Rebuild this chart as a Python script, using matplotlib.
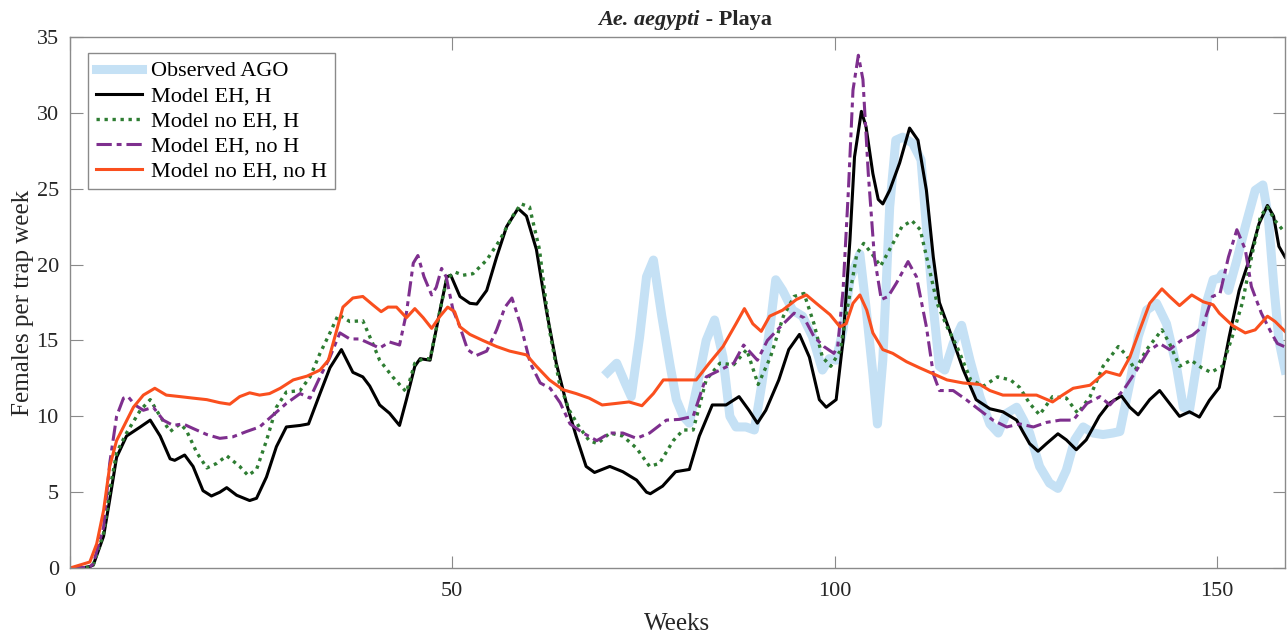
import matplotlib
matplotlib.use("Agg")
import matplotlib.pyplot as plt

plt.rcParams["font.family"] = ["Liberation Serif", "DejaVu Serif"]

# observed AGO counts (weeks 70-159)
obs_w = [70.3, 71.5, 72.6, 73.4, 74.5, 75.4, 76.3, 77.4, 78.5, 79.3, 80.2, 81.0, 82.1, 83.2, 84.3,
         85.4, 86.3, 87.1, 88.4, 89.5, 90.5, 91.6, 92.3, 93.2, 94.5, 95.8, 97.1, 98.4, 99.3, 100.2,
         101.1, 102.0, 103.3, 104.1, 105.0, 105.6, 106.3, 107.2, 108.0, 108.9, 110.2, 111.3, 112.0,
         112.9, 113.7, 114.4, 115.5, 116.6, 117.7, 119.0, 120.3, 121.4, 122.5, 123.8, 124.7, 125.5,
         126.8, 128.1, 129.2, 130.3, 131.4, 132.5, 133.8, 135.1, 136.4, 137.3, 138.6, 139.7, 140.8,
         142.1, 143.4, 144.7, 145.6, 146.4, 147.5, 148.6, 149.5, 150.3, 150.7, 151.5, 152.6, 153.7,
         155.0, 156.0, 156.7, 157.4, 158.1, 158.9]
obs_v = [12.9, 13.5, 12.2, 11.3, 15.25, 19.2, 20.3, 16.6, 13.3, 11.1, 10.0, 9.55, 12.2, 15.0, 16.35,
         13.9, 10.0, 9.3, 9.3, 9.1, 12.2, 16.1, 19.0, 18.3, 17.0, 16.6, 15.25, 13.05, 13.8, 13.7,
         15.7, 19.0, 20.7, 17.2, 12.8, 9.5, 13.7, 23.8, 28.2, 28.4, 28.0, 26.9, 22.5,
         17.2, 13.3, 13.05, 14.8, 16.0, 13.7, 11.3, 9.5, 8.9, 10.2, 10.6, 9.75, 8.9,
         6.7, 5.6, 5.25, 6.45, 8.45, 9.3, 8.9, 8.8, 8.9, 9.0, 12.2, 15.25, 17.0,
         17.45, 16.1, 13.3, 10.6, 10.4, 13.9, 17.45, 19.0, 19.1, 19.4, 18.3, 20.3, 22.5,
         24.9, 25.25, 23.2, 18.8, 15.0, 13.05]

# Model EH, H
eh_h_w = [0, 1.5, 2.6, 3.05, 4.4, 5.2, 6.1, 7.4, 9.2, 10.5, 11.8, 13.1, 13.7, 15.0, 16.1, 17.4, 18.5,
          19.6, 20.5, 21.8, 23.5, 24.4, 25.7, 27.0, 28.3, 30.1, 31.2, 32.7, 34.0, 35.5, 37.0, 38.3,
          39.2, 40.5, 41.8, 43.1, 44.0, 45.1, 45.8, 47.1, 48.4, 49.3, 49.8, 51.0, 52.3, 53.2, 54.5,
          55.8, 57.1, 58.6, 59.7, 61.0, 62.3, 63.6, 64.9, 66.2, 67.5, 68.6, 70.6, 72.3, 74.1, 75.4,
          75.9, 77.5, 79.2, 81.0, 82.3, 84.0, 85.8, 87.5, 88.8, 89.9, 91.0, 92.7, 94.0, 95.4, 96.7,
          98.0, 98.9, 100.2, 101.1, 102.0, 102.6, 103.5, 104.1, 105.0, 105.7, 106.3, 107.2, 108.5,
          109.8, 110.9, 112.0, 112.9, 113.7, 115.0, 116.8, 118.5, 120.3, 122.0, 123.8, 124.6, 125.5,
          126.6, 127.7, 129.2, 130.3, 131.6, 132.9, 134.6, 135.9, 137.5, 138.6, 139.7, 141.2, 142.5,
          143.8, 145.1, 146.4, 147.7, 149.0, 150.3, 151.6, 152.9, 154.2, 155.5, 156.6, 157.4, 158.1,
          158.9]
eh_h_v = [0, 0, 0.1, 0.2, 2.1, 4.5, 7.3, 8.7, 9.3, 9.75, 8.7, 7.2, 7.1, 7.45, 6.7, 5.1, 4.75,
          5.0, 5.3, 4.8, 4.45, 4.6, 6.0, 8.0, 9.3, 9.4, 9.5, 11.5, 13.2, 14.4, 12.9, 12.6,
          12.0, 10.75, 10.2, 9.4, 11.1, 13.3, 13.8, 13.7, 17.0, 19.2, 19.3, 17.9, 17.45, 17.4, 18.3,
          20.5, 22.5, 23.7, 23.2, 21.0, 17.0, 13.5, 10.9, 8.7, 6.7, 6.3, 6.7, 6.35, 5.8, 5.0,
          4.9, 5.4, 6.35, 6.5, 8.7, 10.75, 10.75, 11.3, 10.4, 9.55, 10.4, 12.4, 14.4, 15.4, 13.9,
          11.1, 10.6, 11.1, 15.0, 21.6, 27.1, 30.1, 29.1, 26.0, 24.3, 24.0, 24.9, 26.7,
          29.0, 28.2, 24.9, 20.5, 17.5, 15.7, 13.1, 11.1, 10.5, 10.3, 9.75, 9.0, 8.2,
          7.7, 8.2, 8.85, 8.45, 7.8, 8.45, 10.0, 10.85, 11.35, 10.6, 10.1, 11.1, 11.7,
          10.85, 10.0, 10.3, 9.95, 11.05, 11.9, 15.25, 18.3, 20.3, 22.7, 23.9, 23.2, 21.2,
          20.5]

# Model no EH, H
noeh_h_w = [0, 1.5, 2.6, 3.05, 4.4, 5.2, 6.1, 7.4, 9.2, 10.5, 11.8, 13.1, 14.4, 15.2, 16.6, 17.9,
            19.2, 20.5, 22.2, 23.3, 24.4, 25.7, 27.0, 28.3, 30.1, 31.4, 32.7, 34.0, 35.1, 36.6, 38.3,
            39.6, 40.5, 42.2, 44.0, 45.1, 46.2, 47.1, 48.4, 49.3, 50.4, 51.4, 52.7, 54.5, 56.2, 57.9,
            59.0, 60.1, 61.4, 62.7, 64.0, 65.3, 66.6, 67.9, 69.0, 70.6, 72.3, 74.1, 75.8, 77.1, 78.9,
            80.2, 81.5, 83.2, 85.0, 86.8, 88.5, 90.0, 91.6, 93.3, 94.7, 96.0, 97.3, 98.4, 99.5, 100.7,
            102.0, 102.9, 103.8, 104.9, 106.0, 107.2, 108.8, 110.1, 111.2, 112.3, 113.4, 114.7, 116.0,
            117.8, 119.5, 121.3, 123.0, 124.2, 125.5, 126.8, 128.5, 130.3, 131.8, 133.4, 135.1, 137.1,
            138.2, 139.3, 140.8, 142.8, 143.8, 145.1, 146.6, 148.0, 149.2, 150.7, 152.0, 153.3, 154.6,
            155.7, 156.6, 157.6, 158.9]
noeh_h_v = [0, 0, 0.05, 0.2, 2.3, 5.1, 7.6, 8.9, 10.4, 11.1, 10.0, 9.0, 9.5, 9.1, 7.6, 6.6,
            6.9, 7.4, 6.7, 6.1, 6.5, 8.4, 10.6, 11.6, 11.7, 12.6, 14.15, 15.5, 16.7, 16.25, 16.3,
            14.8, 13.7, 12.6, 11.6, 13.5, 13.8, 13.8, 17.0, 19.1, 19.5, 19.3, 19.4, 20.3, 21.6, 23.2,
            24.0, 23.8, 21.0, 15.7, 12.2, 10.4, 9.3, 8.4, 8.2, 8.9, 8.7, 7.9, 6.7, 6.9, 8.4,
            9.1, 9.1, 12.4, 13.5, 13.4, 14.4, 12.1, 13.9, 16.6, 17.9, 18.1, 16.1, 13.9, 13.3, 14.3,
            18.1, 20.7, 21.4, 20.7, 19.9, 21.0, 22.5, 22.9, 22.3, 19.9, 17.45, 15.9, 14.6,
            12.4, 12.0, 12.6, 12.4, 11.9, 10.85, 10.1, 11.3, 11.2, 10.2, 11.3, 13.3, 14.6,
            14.0, 13.05, 14.4, 15.7, 14.8, 13.3, 13.7, 13.2, 12.9, 13.3, 15.25, 17.45, 20.7,
            23.2, 23.8, 22.9, 22.1]

# Model EH, no H
eh_noh_w = [0, 2.6, 3.05, 4.4, 5.2, 6.1, 7.0, 7.6, 8.5, 9.6, 10.9, 12.2, 13.5, 14.8, 16.1, 17.9,
            19.6, 21.3, 23.1, 24.8, 26.6, 28.3, 30.1, 31.4, 32.7, 34.0, 35.3, 36.6, 37.9, 39.2, 40.5,
            41.8, 43.1, 44.0, 44.9, 45.5, 46.3, 47.3, 47.9, 48.6, 49.2, 50.1, 51.0, 52.0, 53.1, 54.5,
            55.8, 56.9, 57.8, 58.9, 60.2, 61.5, 62.8, 64.1, 65.4, 67.1, 68.9, 70.6, 72.3, 74.1, 75.8,
            78.0, 79.7, 81.5, 83.2, 85.0, 86.8, 88.1, 89.9, 91.2, 92.9, 94.7, 96.0, 97.3, 98.6, 99.9,
            100.4, 101.1, 101.8, 102.4, 103.1, 103.7, 104.4, 105.2, 106.1, 107.0, 108.1, 109.6, 110.7,
            112.0, 112.9, 113.7, 115.5, 117.2, 119.0, 120.7, 122.5, 124.2, 126.0, 127.7, 129.5, 131.2,
            133.0, 134.7, 136.0, 137.8, 139.5, 141.0, 142.5, 143.8, 145.3, 146.8, 148.1, 149.4, 150.4,
            151.5, 152.6, 153.7, 154.5, 155.8, 157.1, 157.9, 158.8]
eh_noh_v = [0, 0.05, 0.3, 2.7, 6.9, 10.0, 11.2, 11.3, 10.75, 10.4, 10.6, 9.75, 9.4, 9.5, 9.2, 8.8,
            8.55, 8.65, 9.0, 9.3, 10.1, 10.85, 11.5, 11.2, 12.6, 13.9, 15.5, 15.1, 15.1, 14.8, 14.5,
            14.9, 14.7, 16.8, 20.1, 20.6, 19.2, 18.0, 18.5, 19.75, 19.2, 17.0, 15.9, 14.4, 14.0, 14.3,
            15.7, 17.2, 17.8, 16.1, 13.5, 12.2, 11.85, 10.9, 9.5, 8.9, 8.4, 8.9, 8.9, 8.55, 8.9,
            9.75, 9.8, 10.0, 12.6, 13.05, 13.5, 14.7, 13.7, 15.0, 15.9, 16.8, 16.5, 15.25, 14.6, 14.15,
            14.6, 18.3, 24.9, 31.5, 33.8, 32.2, 26.0, 20.5, 17.7, 17.9, 18.8, 20.2, 19.2,
            15.9, 12.8, 11.7, 11.7, 11.1, 10.4, 9.75, 9.3, 9.5, 9.3, 9.6, 9.75, 9.75,
            10.85, 11.3, 10.75, 11.75, 13.05, 14.3, 14.8, 14.4, 15.0, 15.35, 15.9, 17.9, 18.1,
            20.5, 22.3, 21.0, 18.55, 16.8, 15.5, 14.8, 14.6]

# Model no EH, no H
noeh_noh_w = [0, 1.3, 2.6, 3.5, 4.4, 5.2, 6.1, 7.0, 8.3, 9.6, 11.1, 12.6, 14.4, 16.1, 17.9, 19.6,
              20.9, 22.2, 23.5, 24.8, 26.1, 27.5, 29.2, 31.0, 32.7, 33.8, 34.9, 35.7, 37.0, 38.3,
              39.6, 40.7, 41.6, 42.7, 44.0, 45.1, 46.2, 47.3, 48.4, 49.4, 50.3, 51.0, 52.3, 54.0,
              55.8, 57.5, 59.7, 61.0, 62.7, 64.5, 66.2, 67.9, 69.6, 71.4, 73.1, 74.8, 76.3, 77.6,
              79.7, 81.9, 83.6, 85.4, 87.1, 88.2, 89.3, 90.4, 91.5, 93.2, 95.0, 96.3, 97.6, 99.4,
              100.7, 101.5, 102.4, 103.3, 104.2, 105.0, 106.3, 107.6, 109.4, 111.1, 112.9, 114.7,
              116.8, 119.0, 120.3, 122.0, 124.0, 126.4, 128.5, 129.8, 131.2, 133.4, 135.5, 137.3,
              138.6, 139.9, 141.2, 142.8, 143.8, 145.1, 146.7, 148.2, 149.5, 150.3, 152.0, 153.7,
              155.0, 156.6, 157.6, 158.9]
noeh_noh_v = [0, 0.2, 0.4, 1.6, 3.8, 6.7, 8.4, 9.3, 10.6, 11.4, 11.85, 11.4, 11.3, 11.2, 11.1, 10.9,
              10.8, 11.3, 11.55, 11.4, 11.5, 11.85, 12.4, 12.65, 13.05, 13.7, 15.7, 17.2, 17.8, 17.9,
              17.35, 16.9, 17.2, 17.2, 16.5, 17.1, 16.5, 15.8, 16.6, 17.2, 16.9, 15.9, 15.4, 15.0,
              14.6, 14.3, 14.05, 13.3, 12.4, 11.75, 11.5, 11.2, 10.75, 10.85, 10.95, 10.7, 11.5, 12.4,
              12.4, 12.4, 13.5, 14.6, 16.1, 17.1, 16.1, 15.6, 16.6, 17.0, 17.7, 18.0, 17.45, 16.7,
              15.9, 16.1, 17.45, 18.0, 17.0, 15.5, 14.4, 14.15, 13.6, 13.2, 12.8, 12.4,
              12.2, 12.1, 11.7, 11.4, 11.4, 11.4, 10.95, 11.4, 11.85, 12.05, 12.95, 12.7,
              13.9, 15.7, 17.45, 18.4, 17.9, 17.3, 18.0, 17.55, 17.35, 16.8, 16.0, 15.5,
              15.7, 16.6, 16.25, 15.6]

SPINE = "#8a8a8a"
TXT = "#262626"

fig = plt.figure(figsize=(12.88, 6.34), dpi=100)
ax = fig.add_axes([0.0543, 0.104, 0.9434, 0.8376])

ax.plot(obs_w, obs_v, color="#c5e1f5", lw=6.5, solid_joinstyle="round", label="Observed AGO")
ax.plot(eh_h_w, eh_h_v, color="black", lw=2.2, label="Model EH, H")
ax.plot(noeh_h_w, noeh_h_v, color="#2e7d32", lw=2.4, ls=(0, (1, 1.4)), label="Model no EH, H")
ax.plot(eh_noh_w, eh_noh_v, color="#7e2f8e", lw=2.2, ls=(0, (5, 1.6, 1.6, 1.6)), label="Model EH, no H")
ax.plot(noeh_noh_w, noeh_noh_v, color="#fa4f1e", lw=2.2, label="Model no EH, no H")

ax.set_xlim(0, 158.9)
ax.set_ylim(0, 35)
ax.set_xticks([0, 50, 100, 150])
ax.set_yticks(range(0, 36, 5))
ax.tick_params(direction="in", length=9, width=0.8, color=SPINE, labelsize=16,
               labelcolor=TXT, top=True, right=True)
ax.tick_params(axis="x", pad=10)
ax.tick_params(axis="y", pad=8)
for s in ax.spines.values():
    s.set_color(SPINE)
    s.set_linewidth(1.0)

ax.set_xlabel("Weeks", fontsize=18, color=TXT, labelpad=9)
ax.set_ylabel("Females per trap week", fontsize=18, color=TXT, labelpad=2)

t1 = ax.text(0.5185, 1.022, "Ae. aegypti", transform=ax.transAxes, ha="right", va="baseline",
             fontsize=16, fontstyle="italic", fontweight="bold", color=TXT)
ax.annotate(" - Playa", xy=(1, 0), xycoords=t1, va="bottom", ha="left",
            fontsize=16, fontweight="bold", color=TXT)

leg = ax.legend(loc="upper left", bbox_to_anchor=(0.0148, 0.970), borderaxespad=0,
                fontsize=16, frameon=True, fancybox=False, framealpha=1,
                handlelength=2.1, handletextpad=0.4, labelspacing=0.2, borderpad=0.35)
leg.get_frame().set_edgecolor(SPINE)
leg.get_frame().set_linewidth(1.0)

fig.savefig("out.png", dpi=100)
